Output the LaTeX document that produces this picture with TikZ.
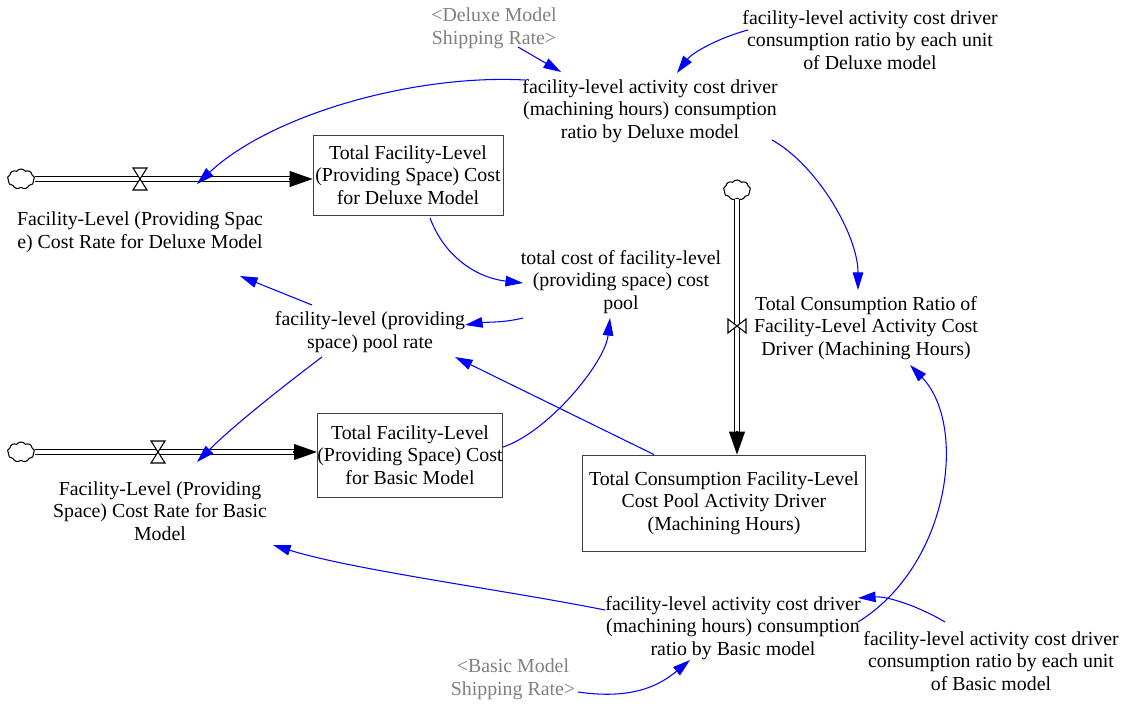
\documentclass[tikz,border=0pt]{standalone}
\usepackage{fontspec}
\setmainfont{Liberation Serif}
\usetikzlibrary{arrows.meta,shapes.symbols}

\tikzset{
  var/.style={align=center, inner sep=0pt},
  shadowvar/.style={var, text=black!50},
  stock/.style={var, draw=black!75, line width=0.5pt},
  link/.style={draw=blue, line width=0.6pt, -{Triangle[length=10pt,width=6pt]}},
  pipe/.style={double, double distance=2.2pt, line width=0.6pt},
  pipetip/.style={line width=0.6pt, -{Triangle[length=13pt,width=9pt]}},
  valve/.style={draw, line width=0.6pt, fill=white},
  source/.style={cloud, cloud puffs=9, cloud puff arc=110, draw, line width=0.6pt,
    minimum width=0.54cm, minimum height=0.4cm, inner sep=0pt, fill=white}
}

\begin{document}
\begin{tikzpicture}[x=0.02cm, y=-0.02cm, font=\fontsize{11.3}{12.9}\selectfont]
\useasboundingbox (0,0) rectangle (1131,707);

% stocks
\node[stock, minimum width=3.8cm, minimum height=1.6cm] (stockD) at (408,175) {Total Facility-Level\\(Providing Space) Cost\\for Deluxe Model};
\node[stock, minimum width=3.7cm, minimum height=1.68cm] (stockB) at (410,455) {Total Facility-Level\\(Providing Space) Cost\\for Basic Model};
\node[stock, minimum width=5.66cm, minimum height=1.92cm] (stockC) at (724,503) {Total Consumption Facility-Level\\Cost Pool Activity Driver\\(Machining Hours)};

% flows
\node[source] (srcD) at (21,179) {};
\node[source] (srcB) at (21,452) {};
\node[source] (srcC) at (737,190) {};
\coordinate (endD) at (srcD.east -| stockD.west);
\coordinate (endB) at (srcB.east -| stockB.west);
\coordinate (endC) at (srcC.south |- stockC.north);
\draw[pipe] (srcD.east) -- ([shift={(-22,0)}]endD);
\draw[pipetip] ([shift={(-24,0)}]endD) -- (endD);
\draw[pipe] (srcB.east) -- ([shift={(-22,0)}]endB);
\draw[pipetip] ([shift={(-24,0)}]endB) -- (endB);
\draw[pipe] (srcC.south) -- ([shift={(0,-22)}]endC);
\draw[pipetip] ([shift={(0,-24)}]endC) -- (endC);

\coordinate (valveD) at (140,179);
\coordinate (valveB) at (158,452);
\coordinate (valveC) at (737,326);
\draw[valve] (valveD) -- ++(-7,-11) -- ++(14,0) -- cycle;
\draw[valve] (valveD) -- ++(-7,11) -- ++(14,0) -- cycle;
\draw[valve] (valveB) -- ++(-7,-11) -- ++(14,0) -- cycle;
\draw[valve] (valveB) -- ++(-7,11) -- ++(14,0) -- cycle;
\draw[valve] (valveC) -- ++(-9,-7) -- ++(0,14) -- cycle;
\draw[valve] (valveC) -- ++(9,-7) -- ++(0,14) -- cycle;

% rates and auxiliaries
\node[var] (rateD) at (140,232) {Facility-Level (Providing Spac\\e) Cost Rate for Deluxe Model};
\node[var] (rateB) at (160,511) {Facility-Level (Providing\\Space) Cost Rate for Basic\\Model};
\node[var] (rateC) at (866,328) {Total Consumption Ratio of\\Facility-Level Activity Cost\\Driver (Machining Hours)};
\node[var] (dlxRatio) at (650,111) {facility-level activity cost driver\\(machining hours) consumption\\ratio by Deluxe model};
\node[var] (dlxUnit) at (870,40) {facility-level activity cost driver\\consumption ratio by each unit\\of Deluxe model};
\node[shadowvar] (dlxShip) at (494,28) {<Deluxe Model\\Shipping Rate>};
\node[var] (poolTotal) at (621,282) {total cost of facility-level\\(providing space) cost\\pool};
\node[var] (poolRate) at (370,332) {facility-level (providing\\space) pool rate};
\node[var] (basRatio) at (733,628) {facility-level activity cost driver\\(machining hours) consumption\\ratio by Basic model};
\node[var] (basUnit) at (991,661) {facility-level activity cost driver\\consumption ratio by each unit\\of Basic model};
\node[shadowvar] (basShip) at (513,679) {<Basic Model\\Shipping Rate>};

% links
\draw[link] ([shift={(-125,-31)}]dlxRatio.center) .. controls +(-110,-6) and +(75,-70) .. ([shift={(57,-48)}]rateD.center);
\draw[link] ([shift={(24,19)}]dlxShip.center) -- ([shift={(-89,-39)}]dlxRatio.center);
\draw[link] ([shift={(-122,-10)}]dlxUnit.center) .. controls +(-30,8) and +(15,-20) .. ([shift={(27,-38)}]dlxRatio.center);
\draw[link] ([shift={(122,29)}]dlxRatio.center) .. controls +(45,25) and +(0,-55) .. ([shift={(-8,-38)}]rateC.center);
\draw[link] ([shift={(22,43)}]stockD.center) .. controls +(15,40) and +(-45,-5) .. ([shift={(-98,1)}]poolTotal.center);
\draw[link] ([shift={(-98,36)}]poolTotal.center) .. controls +(-20,5) and +(20,-3) .. ([shift={(95,-7)}]poolRate.center);
\draw[link] ([shift={(-58,-27)}]poolRate.center) -- ([shift={(100,44)}]rateD.center);
\draw[link] ([shift={(-48,25)}]poolRate.center) .. controls +(-40,30) and +(35,-35) .. ([shift={(37,-49)}]rateB.center);
\draw[link] ([shift={(-70,0)}]stockC.north) -- ([shift={(85,25)}]poolRate.center);
\draw[link] ([shift={(0,-8)}]stockB.east) .. controls +(45,-15) and +(-5,45) .. ([shift={(-11,36)}]poolTotal.center);
\draw[link] ([shift={(-128,-18)}]basRatio.center) .. controls +(-100,-20) and +(80,25) .. ([shift={(113,34)}]rateB.center);
\draw[link] ([shift={(125,-6)}]basRatio.center) .. controls +(92,-57) and +(58,60) .. ([shift={(44,37)}]rateC.center);
\draw[link] ([shift={(-46,-39)}]basUnit.center) .. controls +(-25,-15) and +(30,-2) .. ([shift={(125,-30)}]basRatio.center);
\draw[link] ([shift={(65,13)}]basShip.center) .. controls +(55,8) and +(-30,25) .. ([shift={(-43,32)}]basRatio.center);
\end{tikzpicture}
\end{document}
